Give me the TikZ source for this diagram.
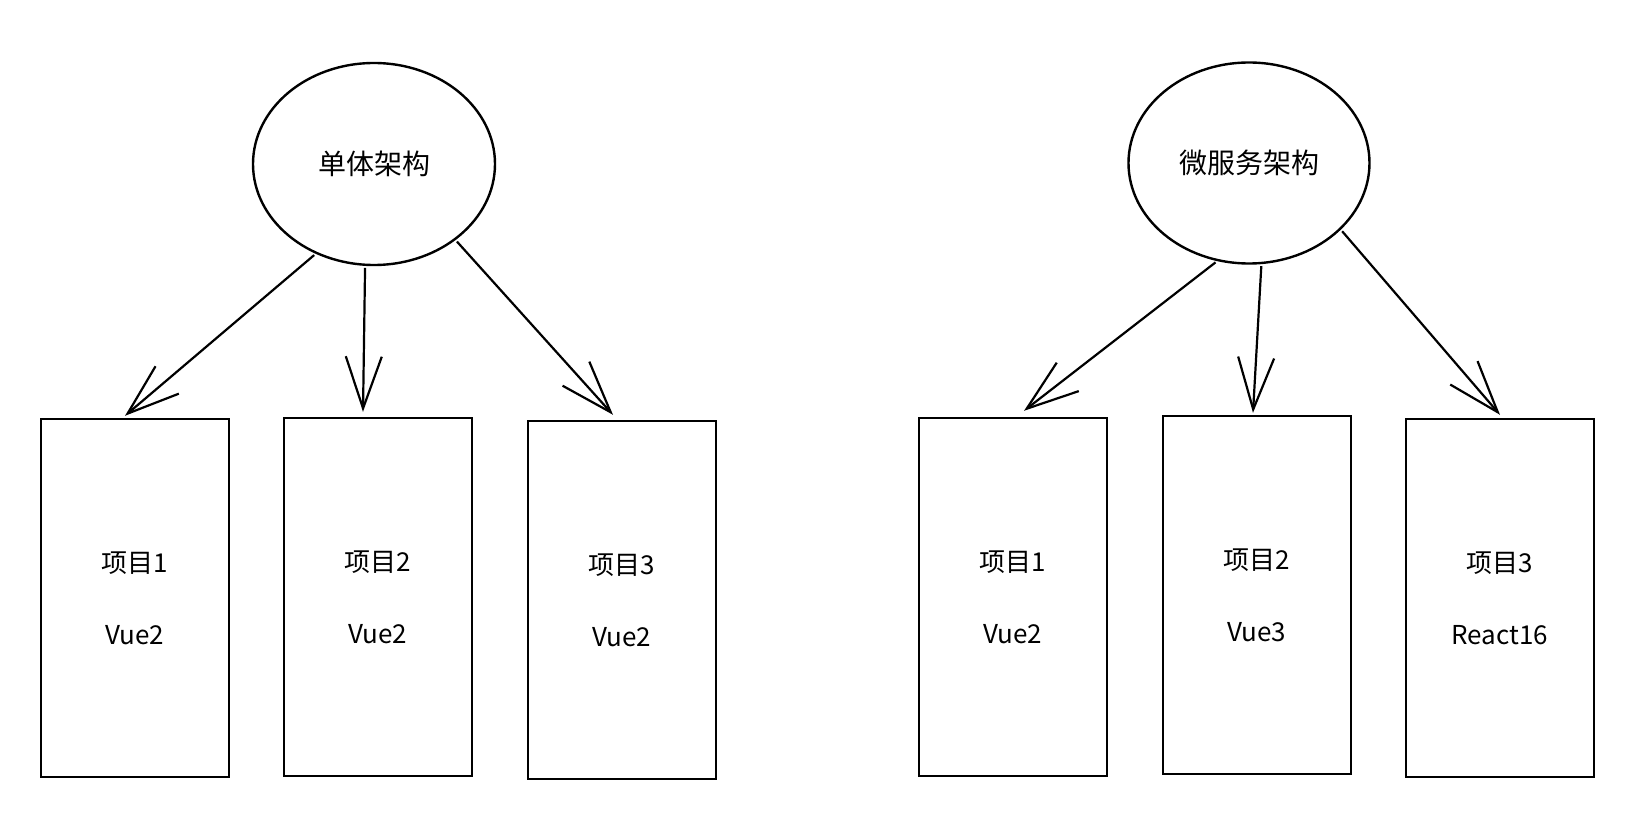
\documentclass[tikz,border=0pt]{standalone}
\usepackage{fontspec}
\newfontfamily\cjk{Noto Sans CJK SC}
\usetikzlibrary{shapes.geometric,arrows.meta}

\tikzset{
  arch/.style={shape=ellipse,draw=black,line width=1.2pt,inner sep=0pt,font=\cjk\fontsize{14}{17}\selectfont},
  proj/.style={shape=rectangle,draw=black,line width=1.2pt,minimum width=94pt,minimum height=179pt,align=center,font=\cjk\fontsize{13}{16}\selectfont},
  link/.style={-{Straight Barb[length=26pt,width=18pt]},line width=1.1pt,shorten <=1pt}
}

\begin{document}
\begin{tikzpicture}[x=0.5pt,y=-0.5pt]
\useasboundingbox (0,0) rectangle (1630,834);

% Top row
\node [arch,minimum width=121pt,minimum height=101pt] at (374,164) (mono) {单体架构};
\node [arch,minimum width=120.5pt,minimum height=100.5pt] at (1249,163) (micro) {微服务架构};

% Left group
\node [proj] at (135,598) (l1) {项目1\\[20pt]Vue2};
\node [proj] at (378,597) (l2) {项目2\\[20pt]Vue2};
\node [proj] at (622,600) (l3) {项目3\\[20pt]Vue2};

% Right group
\node [proj] at (1013,597) (r1) {项目1\\[20pt]Vue2};
\node [proj] at (1257,595) (r2) {项目2\\[20pt]Vue3};
\node [proj] at (1500,598) (r3) {项目3\\[20pt]React16};

%Arrows from architecture to projects
\draw [link] (mono.237) -- ([xshift=-5pt,yshift=1pt]l1.north);
\draw [link] (mono.265) -- ([xshift=-7.5pt,yshift=2.5pt]l2.north);
\draw [link] (mono.317) -- ([xshift=-4.5pt,yshift=2.5pt]l3.north);
\draw [link] (micro.252) -- ([xshift=5.5pt,yshift=3pt]r1.north);
\draw [link] (micro.277) -- ([xshift=-2pt,yshift=1pt]r2.north);
\draw [link] (micro.324) -- ([yshift=1.5pt]r3.north);

\end{tikzpicture}
\end{document}
